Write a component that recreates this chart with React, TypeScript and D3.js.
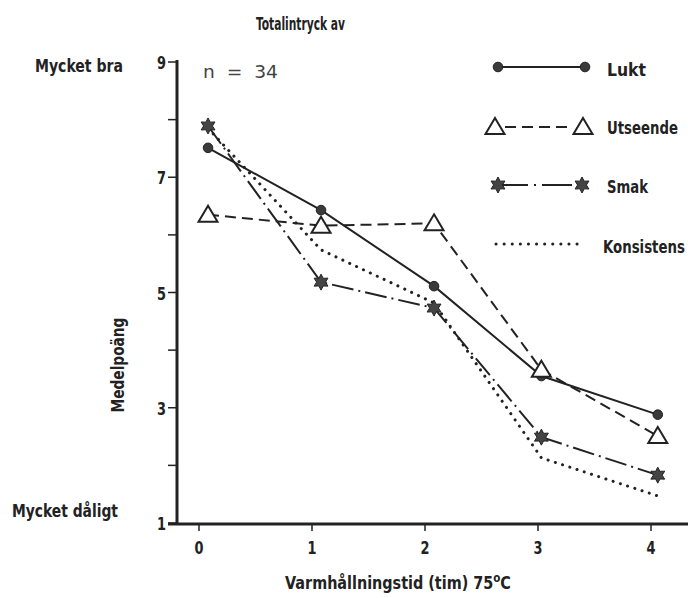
import { useLayoutEffect, useRef, useState } from 'react'
import * as d3 from 'd3'

// Varmhållningstid (tim) – plotted positions
const hours = [0.08, 1.08, 2.08, 3.03, 4.06]
const lukt = [7.51, 6.43, 5.11, 3.55, 2.88]
const utseende = [6.35, 6.16, 6.2, 3.66, 2.51]
const smak = [7.89, 5.18, 4.73, 2.49, 1.83]
const konsistens = [7.85, 5.74, 4.82, 2.13, 1.47]

const xTicks = [0, 1, 2, 3, 4]
const yMajor = [1, 3, 5, 7, 9]
const yMinor = [2, 4, 6, 8]

const FONT = "'Liberation Sans Narrow', 'DejaVu Sans Condensed', 'Arial Narrow', sans-serif"
const INK = '#222'

const x = d3.scaleLinear().domain([0, 4]).range([199, 651])
const y = d3.scaleLinear().domain([1, 9]).range([523, 62])

const line = d3
  .line<number>()
  .x((_, i) => x(hours[i]))
  .y((d) => y(d))

// six-pointed star marker
function starPath(r: number) {
  const pts: string[] = []
  for (let i = 0; i < 12; i++) {
    const a = (Math.PI / 6) * i - Math.PI / 2
    const rr = i % 2 === 0 ? r : r * 0.55
    pts.push(`${(Math.cos(a) * rr).toFixed(2)},${(Math.sin(a) * rr).toFixed(2)}`)
  }
  return `M${pts.join('L')}Z`
}
const STAR = starPath(8)
const TRI = 'M0,-9L9.5,7L-9.5,7Z'

// text squeezed horizontally to a measured width (condensed look)
function FitText({
  x: tx, y: ty, width, size, rotate = 0, anchor = 'start', children, ...rest
}: {
  x: number; y: number; width: number; size: number; rotate?: number; anchor?: string
  children: React.ReactNode; [k: string]: any
}) {
  const ref = useRef<SVGTextElement>(null)
  const [sx, setSx] = useState(1)
  useLayoutEffect(() => {
    if (!ref.current) return
    const len = ref.current.getComputedTextLength()
    if (len > 0) setSx(width / len)
  }, [width])
  return (
    <text
      ref={ref}
      transform={`translate(${tx},${ty}) rotate(${rotate}) scale(${sx},1)`}
      fontSize={size}
      textAnchor={anchor}
      fontFamily={FONT}
      fontWeight={700}
      fill={INK}
      {...rest}
    >
      {children}
    </text>
  )
}

function Circle({ cx, cy }: { cx: number; cy: number }) {
  return <circle cx={cx} cy={cy} r={4.8} fill="#3a3a3a" stroke={INK} strokeWidth={1} />
}
function Tri({ cx, cy }: { cx: number; cy: number }) {
  return <path d={TRI} transform={`translate(${cx},${cy})`} fill="#fff" stroke={INK} strokeWidth={2} />
}
function Star({ cx, cy }: { cx: number; cy: number }) {
  return <path d={STAR} transform={`translate(${cx},${cy})`} fill="#444" stroke={INK} strokeWidth={1} />
}

export default function App() {
  return (
    <div style={{ position: 'absolute', left: 0, top: 0 }}>
      <svg width={688} height={598} style={{ display: 'block', background: '#fff' }}>
        {/* title and scale words */}
        <FitText x={256} y={30} width={89} size={18}>Totalintryck av</FitText>
        <FitText x={35} y={72} width={88} size={18}>Mycket bra</FitText>
        <FitText x={12} y={517} width={106} size={18}>Mycket dåligt</FitText>
        <FitText x={203} y={78} width={75} size={17} fontFamily="'DejaVu Sans', sans-serif"
          fontWeight={400} fill="#444" style={{ whiteSpace: 'pre' }}>
          n  =  34
        </FitText>

        {/* axes */}
        <line x1={177} x2={177} y1={60} y2={525} stroke={INK} strokeWidth={3} />
        <line x1={168} x2={688} y1={524} y2={524} stroke={INK} strokeWidth={3} />
        {yMajor.concat(yMinor).map((v) => (
          <line key={'yt' + v} x1={168} x2={177} y1={y(v)} y2={y(v)} stroke={INK} strokeWidth={1.5} />
        ))}
        {xTicks.map((v) => (
          <line key={'xt' + v} x1={x(v)} x2={x(v)} y1={524} y2={531} stroke={INK} strokeWidth={1.5} />
        ))}
        {yMajor.map((v) => (
          <FitText key={'yl' + v} x={166} y={y(v) + 7} width={9} size={18} anchor="end">
            {v}
          </FitText>
        ))}
        {xTicks.map((v) => (
          <FitText key={'xl' + v} x={x(v)} y={554} width={9} size={18} anchor="middle">
            {v}
          </FitText>
        ))}
        <FitText x={398} y={589} width={226} size={18} anchor="middle">
          Varmhållningstid (tim) 75<tspan dy={-7} fontSize={13}>o</tspan>
          <tspan dy={7}>C</tspan>
        </FitText>
        <FitText x={124} y={365} width={95} size={17} rotate={-90} anchor="middle">
          Medelpoäng
        </FitText>

        {/* series */}
        <path d={line(konsistens)!} fill="none" stroke={INK} strokeWidth={3} strokeLinecap="round" strokeDasharray="0.1,7.5" />
        <path d={line(smak)!} fill="none" stroke={INK} strokeWidth={2} strokeDasharray="22,5,2,5" />
        <path d={line(utseende)!} fill="none" stroke={INK} strokeWidth={2} strokeDasharray="11,6" />
        <path d={line(lukt)!} fill="none" stroke={INK} strokeWidth={2} />
        {lukt.map((v, i) => <Circle key={'c' + i} cx={x(hours[i])} cy={y(v)} />)}
        {utseende.map((v, i) => <Tri key={'t' + i} cx={x(hours[i])} cy={y(v)} />)}
        {smak.map((v, i) => <Star key={'s' + i} cx={x(hours[i])} cy={y(v)} />)}

        {/* legend */}
        <line x1={498} x2={585} y1={67} y2={67} stroke={INK} strokeWidth={2} />
        <Circle cx={498} cy={67} />
        <Circle cx={585} cy={67} />
        <FitText x={607} y={76} width={39} size={18}>Lukt</FitText>

        <line x1={505} x2={573} y1={127} y2={127} stroke={INK} strokeWidth={2} strokeDasharray="11,6" />
        <Tri cx={495} cy={127} />
        <Tri cx={583} cy={127} />
        <FitText x={607} y={134} width={71} size={18}>Utseende</FitText>

        <line x1={498} x2={582} y1={185} y2={185} stroke={INK} strokeWidth={2} strokeDasharray="30,6,2,6" />
        <Star cx={498} cy={185} />
        <Star cx={582} cy={185} />
        <FitText x={607} y={193} width={41} size={18}>Smak</FitText>

        <line x1={496} x2={578} y1={244} y2={244} stroke={INK} strokeWidth={3} strokeLinecap="round" strokeDasharray="0.1,8" />
        <FitText x={603} y={253} width={82} size={18}>Konsistens</FitText>
      </svg>
    </div>
  )
}
